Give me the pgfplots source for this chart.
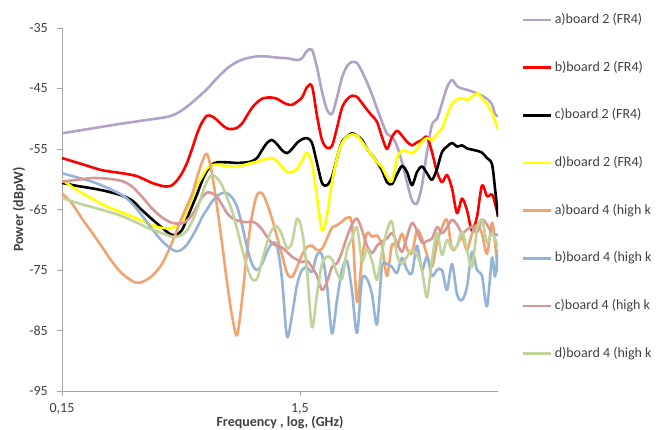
\documentclass[border=0pt]{standalone}
\usepackage{fontspec}
\setmainfont{Carlito}
\usepackage{pgfplots}
\pgfplotsset{compat=1.18}
\definecolor{cPur}{RGB}{179,162,199}
\definecolor{cRed}{RGB}{255,0,0}
\definecolor{cBlk}{RGB}{0,0,0}
\definecolor{cYel}{RGB}{255,255,0}
\definecolor{cOra}{RGB}{243,163,112}
\definecolor{cBlu}{RGB}{149,179,215}
\definecolor{cPnk}{RGB}{214,152,150}
\definecolor{cGrn}{RGB}{190,212,155}
\definecolor{axgray}{RGB}{166,166,166}
\definecolor{txgray}{RGB}{64,64,64}
\begin{document}
\begin{tikzpicture}
\path[use as bounding box] (-62pt,-39pt) rectangle (605pt,391pt);
\begin{axis}[
  at={(0pt,0pt)}, anchor=south west,
  scale only axis, width=436pt, height=363pt,
  xmode=log, xmin=0.15, xmax=10.193, ymin=-95, ymax=-35,
  axis x line*=bottom, axis y line*=left,
  axis line style={draw=axgray, line width=0.9pt},
  xtick={0.15,1.5}, xticklabels={{0,15},{1,5}},
  minor xtick={}, xminorticks=false,
  ytick={-95,-85,-75,-65,-55,-45,-35},
  tick align=outside, major tick length=5pt,
  tick style={draw=axgray, line width=0.9pt},
  tick label style={font=\fontsize{14}{16}\selectfont, text=txgray},
  /pgf/number format/assume math mode=true,
  yticklabel style={anchor=east, inner sep=0pt, xshift=-9pt},
  xticklabel style={anchor=north, inner sep=0pt, yshift=-7pt},
  xlabel={Frequency , log, (GHz)}, ylabel={Power (dBpW)},
  label style={font=\bfseries\fontsize{14}{16}\selectfont, text=txgray},
  xlabel style={at={(axis description cs:0.5,-0.0854)}, anchor=center},
  ylabel style={at={(axis description cs:-0.0986,0.5)}, anchor=center},
  every axis plot/.append style={line width=2.6pt, smooth, tension=0.5, line join=round},
  legend image code/.code={\draw[#1] (0pt,0pt) -- (28pt,0pt);},
  legend cell align=left,
  legend style={draw=none, fill=none, inner sep=0pt, row sep=34.7pt,
    at={(axis description cs:1.055,1.041)}, anchor=north west,
    nodes={inner sep=0pt, text height=10pt, text depth=3pt, font=\fontsize{14}{16}\selectfont, text=txgray},
    /tikz/every odd column/.append style={column sep=2pt}},
]
\addplot[cPur] coordinates {(0.1500,-52.4) (0.2005,-51.6) (0.2680,-50.8) (0.3414,-50.2) (0.4143,-49.7) (0.4564,-49.1) (0.5028,-48.0) (0.5539,-46.6) (0.6101,-45.1) (0.6721,-43.3) (0.7404,-41.7) (0.8156,-40.6) (0.8984,-40.0) (0.9897,-39.7) (1.0903,-39.7) (1.2010,-39.9) (1.3231,-40.0) (1.4575,-40.3) (1.5298,-40.0) (1.6056,-38.8) (1.6852,-38.6) (1.7688,-41.5) (1.8564,-45.5) (1.9485,-48.5) (2.0450,-49.2) (2.1464,-46.5) (2.2528,-43.2) (2.3645,-41.3) (2.4817,-40.6) (2.6048,-40.8) (2.7339,-42.2) (2.8695,-44.0) (3.0116,-46.0) (3.1610,-48.3) (3.3176,-50.5) (3.4821,-52.5) (3.6547,-53.0) (3.8359,-54.5) (4.0260,-57.2) (4.2256,-60.5) (4.4350,-63.5) (4.6549,-64.0) (4.8856,-61.0) (5.1278,-55.5) (5.3820,-51.0) (5.6488,-50.0) (5.9288,-47.5) (6.2227,-44.8) (6.5311,-43.6) (6.8549,-44.6) (7.1947,-45.0) (7.5513,-45.2) (7.9257,-45.5) (8.3186,-45.8) (8.7309,-46.2) (9.1637,-46.7) (9.6180,-47.6) (9.901,-49.2) (10.193,-49.6)};
\addlegendentry{a)board 2 (FR4)}
\addplot[cRed] coordinates {(0.1500,-56.5) (0.1820,-57.5) (0.2209,-58.5) (0.2680,-59.0) (0.3099,-59.5) (0.3583,-60.6) (0.3947,-61.1) (0.4143,-61.2) (0.4348,-61.0) (0.4564,-60.2) (0.4790,-59.0) (0.5028,-57.3) (0.5277,-55.0) (0.5539,-52.5) (0.5813,-50.6) (0.6101,-49.5) (0.6403,-49.6) (0.6721,-50.2) (0.7054,-51.0) (0.7404,-51.6) (0.7771,-51.7) (0.8156,-51.5) (0.8560,-50.8) (0.8984,-49.5) (0.9430,-48.2) (0.9897,-47.3) (1.0388,-46.7) (1.0903,-46.5) (1.1443,-46.5) (1.2010,-46.7) (1.2606,-47.2) (1.3231,-47.6) (1.3887,-47.7) (1.4575,-47.2) (1.5298,-46.5) (1.6056,-44.8) (1.6852,-44.6) (1.7688,-49.5) (1.8564,-53.5) (1.9485,-54.8) (2.0450,-54.5) (2.1464,-51.5) (2.2528,-48.2) (2.3645,-46.8) (2.4817,-46.2) (2.6048,-46.4) (2.7339,-47.4) (2.8695,-48.5) (3.0116,-49.5) (3.1610,-50.5) (3.3176,-53.0) (3.4821,-55.0) (3.6547,-53.0) (3.8359,-52.0) (4.0260,-52.8) (4.2256,-53.8) (4.4350,-54.4) (4.6549,-53.9) (4.8856,-53.5) (5.1278,-53.0) (5.3820,-55.5) (5.6488,-58.8) (5.9288,-60.5) (6.2227,-59.3) (6.5311,-61.5) (6.8549,-65.6) (7.1947,-63.2) (7.5513,-65.1) (7.9257,-68.5) (8.3186,-66.2) (8.7309,-61.0) (9.1637,-62.8) (9.6180,-62.5) (9.901,-64.0) (10.193,-66.0)};
\addlegendentry{b)board 2 (FR4)}
\addplot[cBlk] coordinates {(0.1500,-60.6) (0.1734,-61.1) (0.2005,-61.5) (0.2318,-62.0) (0.2680,-62.7) (0.2953,-63.5) (0.3253,-65.1) (0.3583,-66.6) (0.3947,-68.0) (0.4143,-68.7) (0.4348,-69.2) (0.4564,-69.1) (0.4790,-68.4) (0.5028,-66.5) (0.5277,-64.5) (0.5539,-62.5) (0.5813,-60.3) (0.6101,-58.6) (0.6403,-57.6) (0.6721,-57.2) (0.7404,-57.2) (0.8156,-57.3) (0.8984,-57.2) (0.9430,-57.0) (0.9897,-56.5) (1.0388,-55.2) (1.0903,-54.0) (1.1443,-53.5) (1.2010,-54.2) (1.2606,-55.2) (1.3231,-55.7) (1.3887,-55.0) (1.4575,-54.0) (1.5298,-53.4) (1.6056,-53.2) (1.6852,-54.0) (1.7688,-57.3) (1.8564,-60.6) (1.9485,-61.0) (2.0450,-59.6) (2.1464,-56.5) (2.2528,-53.8) (2.3645,-53.0) (2.4817,-52.4) (2.6048,-52.8) (2.7339,-53.5) (2.8695,-55.0) (3.0116,-56.0) (3.1610,-57.2) (3.3176,-58.5) (3.4821,-60.5) (3.6547,-60.8) (3.8359,-59.2) (4.0260,-57.8) (4.2256,-58.8) (4.4350,-61.0) (4.6549,-58.8) (4.8856,-57.9) (5.1278,-59.0) (5.3820,-60.1) (5.6488,-58.3) (5.9288,-55.5) (6.2227,-54.6) (6.5311,-54.0) (6.8549,-54.6) (7.1947,-54.4) (7.5513,-54.9) (7.9257,-55.1) (8.3186,-55.3) (8.7309,-55.6) (9.1637,-56.5) (9.6180,-57.5) (9.901,-61.5) (10.193,-66.2)};
\addlegendentry{c)board 2 (FR4)}
\addplot[cYel] coordinates {(0.1500,-60.1) (0.1734,-61.8) (0.2005,-63.2) (0.2318,-64.5) (0.2680,-65.5) (0.3099,-66.5) (0.3414,-67.2) (0.3761,-67.9) (0.4143,-68.1) (0.4348,-68.0) (0.4564,-67.7) (0.4790,-67.0) (0.5028,-65.2) (0.5277,-63.2) (0.5539,-61.0) (0.5813,-59.6) (0.6101,-58.2) (0.6403,-57.7) (0.6721,-57.6) (0.7404,-57.8) (0.8156,-57.9) (0.8984,-57.5) (0.9897,-57.1) (1.0903,-56.6) (1.1443,-56.5) (1.2010,-57.0) (1.2606,-58.0) (1.3231,-58.8) (1.3887,-58.8) (1.4575,-58.3) (1.5298,-57.0) (1.6056,-55.6) (1.6852,-57.5) (1.7688,-63.0) (1.8564,-68.5) (1.9485,-66.0) (2.0450,-60.5) (2.1464,-56.5) (2.2528,-54.0) (2.3645,-53.0) (2.4817,-52.6) (2.6048,-52.8) (2.7339,-53.8) (2.8695,-55.0) (3.0116,-56.0) (3.1610,-57.2) (3.3176,-58.0) (3.4821,-59.6) (3.6547,-60.3) (3.8359,-56.5) (4.0260,-55.3) (4.2256,-55.4) (4.4350,-55.7) (4.6549,-55.0) (4.8856,-53.8) (5.1278,-53.2) (5.3820,-53.5) (5.6488,-52.5) (5.9288,-51.6) (6.2227,-49.4) (6.5311,-47.5) (6.8549,-46.8) (7.1947,-46.6) (7.5513,-46.9) (7.9257,-46.4) (8.3186,-45.8) (8.7309,-46.6) (9.1637,-47.6) (9.6180,-49.0) (9.901,-50.3) (10.193,-51.8)};
\addlegendentry{d)board 2 (FR4)}
\addplot[cOra] coordinates {(0.1500,-62.3) (0.1652,-64.0) (0.1820,-66.5) (0.2005,-68.8) (0.2209,-71.2) (0.2433,-73.6) (0.2680,-75.6) (0.2953,-76.8) (0.3099,-77.1) (0.3253,-77.0) (0.3583,-76.0) (0.3947,-74.0) (0.4348,-70.5) (0.4790,-66.3) (0.5277,-62.5) (0.5539,-59.7) (0.5813,-57.2) (0.6101,-55.8) (0.6403,-59.0) (0.6721,-64.5) (0.7054,-70.5) (0.7404,-77.0) (0.7771,-82.5) (0.8156,-85.8) (0.8560,-80.0) (0.8984,-72.0) (0.9430,-66.0) (0.9897,-62.6) (1.0388,-62.3) (1.0903,-64.0) (1.1443,-66.5) (1.2010,-69.5) (1.2606,-72.5) (1.3231,-75.5) (1.3887,-76.2) (1.4575,-74.5) (1.5298,-72.5) (1.6056,-71.2) (1.6852,-71.0) (1.7688,-71.7) (1.8564,-71.5) (1.9485,-69.8) (2.0450,-68.0) (2.1464,-67.6) (2.2528,-67.0) (2.3645,-66.4) (2.4817,-67.5) (2.6048,-80.3) (2.7339,-73.0) (2.8695,-68.9) (3.0116,-69.5) (3.1610,-69.3) (3.3176,-71.0) (3.4821,-76.0) (3.6547,-70.8) (3.8359,-71.2) (4.0260,-69.0) (4.2256,-71.5) (4.4350,-72.2) (4.6549,-68.4) (4.8856,-69.8) (5.1278,-72.5) (5.3820,-74.5) (5.6488,-70.5) (5.9288,-68.0) (6.2227,-66.7) (6.5311,-71.5) (6.8549,-71.0) (7.1947,-69.5) (7.5513,-71.7) (7.9257,-69.0) (8.3186,-67.5) (8.7309,-69.0) (9.1637,-72.3) (9.6180,-67.2) (9.901,-70.5) (10.193,-75.3)};
\addlegendentry{a)board 4 (high k}
\addplot[cBlu] coordinates {(0.1500,-59.0) (0.1734,-59.7) (0.2005,-60.4) (0.2318,-61.4) (0.2680,-62.6) (0.2953,-64.0) (0.3253,-66.0) (0.3583,-68.2) (0.3947,-70.2) (0.4348,-71.6) (0.4564,-71.9) (0.4790,-71.6) (0.5028,-70.8) (0.5277,-69.5) (0.5539,-68.0) (0.5813,-66.3) (0.6101,-65.0) (0.6403,-63.7) (0.6721,-62.8) (0.7054,-62.3) (0.7404,-62.3) (0.7771,-63.0) (0.8156,-64.5) (0.8560,-67.5) (0.8984,-71.2) (0.9430,-74.0) (0.9897,-75.0) (1.0388,-74.0) (1.0903,-72.0) (1.1443,-70.6) (1.2010,-71.0) (1.2606,-76.5) (1.3231,-86.0) (1.3887,-82.5) (1.4575,-77.5) (1.5298,-75.0) (1.6056,-74.6) (1.6852,-75.3) (1.7688,-72.5) (1.8564,-72.5) (1.9485,-77.5) (2.0450,-85.5) (2.1464,-80.0) (2.2528,-75.0) (2.3645,-73.5) (2.4817,-78.5) (2.6048,-85.4) (2.7339,-76.6) (2.8695,-76.5) (3.0116,-79.0) (3.1610,-84.0) (3.3176,-74.5) (3.4821,-74.0) (3.6547,-74.5) (3.8359,-75.5) (4.0260,-73.0) (4.2256,-75.0) (4.4350,-75.5) (4.6549,-71.0) (4.8856,-75.0) (5.1278,-72.8) (5.3820,-76.0) (5.6488,-75.0) (5.9288,-75.0) (6.2227,-78.3) (6.5311,-74.0) (6.8549,-79.0) (7.1947,-80.0) (7.5513,-77.8) (7.9257,-72.0) (8.3186,-75.0) (8.7309,-76.0) (9.1637,-81.0) (9.6180,-73.0) (9.901,-76.1) (10.193,-71.7)};
\addlegendentry{b)board 4 (high k}
\addplot[cPnk] coordinates {(0.1500,-60.4) (0.1734,-60.1) (0.2005,-59.8) (0.2318,-59.9) (0.2680,-60.3) (0.2953,-61.2) (0.3253,-62.9) (0.3583,-64.8) (0.3947,-66.3) (0.4348,-67.2) (0.4790,-67.3) (0.5028,-66.8) (0.5277,-65.9) (0.5539,-64.5) (0.5813,-63.0) (0.6101,-62.2) (0.6403,-62.3) (0.6721,-62.9) (0.7054,-64.2) (0.7404,-65.6) (0.7771,-66.4) (0.8156,-66.8) (0.8560,-67.0) (0.8984,-67.1) (0.9430,-67.0) (0.9897,-67.4) (1.0388,-68.3) (1.0903,-69.5) (1.1443,-70.6) (1.2010,-71.0) (1.2606,-71.3) (1.3231,-72.0) (1.3887,-72.8) (1.4575,-73.3) (1.5298,-73.7) (1.6056,-73.5) (1.6852,-74.5) (1.7688,-76.0) (1.8564,-78.3) (1.9485,-77.0) (2.0450,-74.5) (2.1464,-73.9) (2.2528,-72.0) (2.3645,-69.5) (2.4817,-67.5) (2.6048,-66.5) (2.7339,-68.4) (2.8695,-71.0) (3.0116,-72.2) (3.1610,-71.0) (3.3176,-70.3) (3.4821,-69.8) (3.6547,-68.9) (3.8359,-70.5) (4.0260,-72.0) (4.2256,-69.5) (4.4350,-67.2) (4.6549,-68.5) (4.8856,-70.5) (5.1278,-70.2) (5.3820,-69.8) (5.6488,-67.9) (5.9288,-68.9) (6.2227,-68.0) (6.5311,-66.7) (6.8549,-67.5) (7.1947,-68.9) (7.5513,-68.3) (7.9257,-67.9) (8.3186,-68.8) (8.7309,-66.7) (9.1637,-67.5) (9.6180,-68.9) (10.193,-69.2)};
\addlegendentry{c)board 4 (high k}
\addplot[cGrn] coordinates {(0.1500,-63.1) (0.1734,-63.9) (0.2005,-64.6) (0.2318,-65.3) (0.2680,-66.1) (0.3099,-67.2) (0.3414,-68.0) (0.3761,-68.6) (0.4143,-69.2) (0.4348,-69.5) (0.4564,-69.5) (0.4790,-69.2) (0.5028,-68.5) (0.5277,-67.0) (0.5539,-65.0) (0.5813,-62.5) (0.6101,-60.3) (0.6403,-59.3) (0.6721,-59.8) (0.7054,-61.0) (0.7404,-63.0) (0.7771,-65.2) (0.8156,-68.2) (0.8560,-71.5) (0.8984,-74.5) (0.9430,-76.5) (0.9897,-76.5) (1.0388,-73.5) (1.0903,-70.5) (1.1443,-68.3) (1.2010,-67.8) (1.2606,-69.2) (1.3231,-71.4) (1.3887,-70.5) (1.4575,-66.5) (1.5298,-68.5) (1.6056,-75.0) (1.6852,-84.5) (1.7688,-79.0) (1.8564,-74.0) (1.9485,-72.8) (2.0450,-73.2) (2.1464,-75.5) (2.2528,-76.5) (2.3645,-71.7) (2.4817,-69.8) (2.6048,-67.9) (2.7339,-73.5) (2.8695,-71.5) (3.0116,-73.5) (3.1610,-76.6) (3.3176,-72.0) (3.4821,-68.5) (3.6547,-67.0) (3.8359,-72.5) (4.0260,-74.0) (4.2256,-72.8) (4.4350,-71.7) (4.6549,-72.5) (4.8856,-75.0) (5.1278,-79.5) (5.3820,-73.3) (5.6488,-68.9) (5.9288,-72.5) (6.2227,-70.0) (6.5311,-71.5) (6.8549,-71.0) (7.1947,-68.6) (7.5513,-71.7) (7.9257,-74.5) (8.3186,-68.4) (8.7309,-66.7) (9.1637,-70.5) (9.6180,-68.9) (10.193,-71.2)};
\addlegendentry{d)board 4 (high k}
\end{axis}
\end{tikzpicture}
\end{document}
